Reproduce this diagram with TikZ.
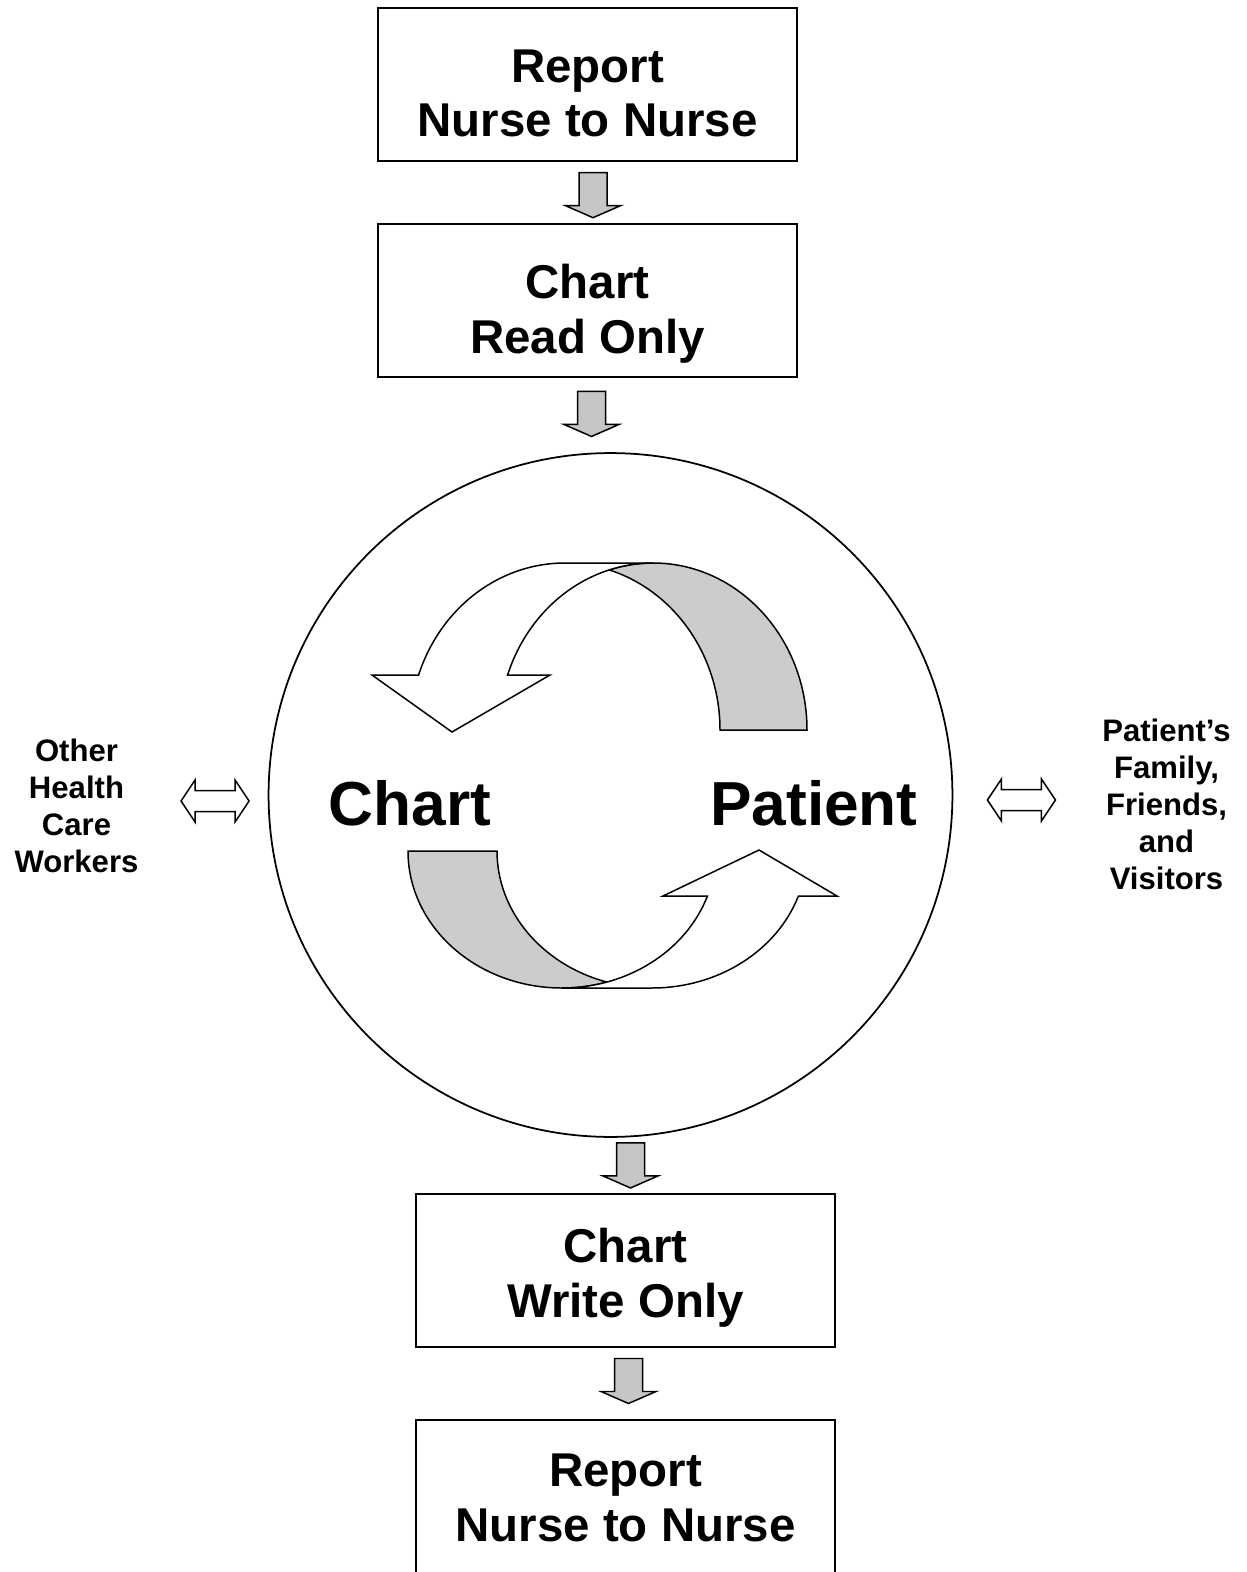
\documentclass[tikz,border=0pt]{standalone}
\usepackage{fontspec}
\setmainfont{Liberation Sans}
\usetikzlibrary{positioning, calc}

% pushes a two-line box text down by half of #1
\newcommand{\textdrop}[1]{\rule{0pt}{\dimexpr\fontcharht\font`R+#1\relax}}

\begin{document}
\begin{tikzpicture}[
    x=0.02cm, y=0.02cm,
    flowbox/.style={rectangle, draw, line width=1.1pt, minimum width=8.38cm, minimum height=3.06cm, outer sep=0pt, align=center, font=\fontsize{27}{31.2}\selectfont\bfseries},
    ring/.style={circle, draw, line width=1pt, minimum size=13.68cm, inner sep=0pt, outer sep=0pt},
    biglabel/.style={inner sep=0pt, font=\fontsize{35.4}{40}\selectfont\bfseries},
    sidelabel/.style={inner sep=0pt, align=center, font=\fontsize{17.7}{21}\selectfont\bfseries},
    ribbon/.style={draw, line width=0.85pt, line join=miter},
    blockarrow/.style={draw, fill=gray!45, line width=0.85pt},
    downarrow/.pic={\path[blockarrow] (-14,0) -- (14,0) -- (14,-33) -- (27.5,-33) -- (0,-45) -- (-27.5,-33) -- (-14,-33) -- cycle;},
    dblarrow/.pic={\path[draw, fill=white, line width=0.85pt] (-34,0) -- (-20,21) -- (-20,10.5) -- (20,10.5) -- (20,21) -- (34,0) -- (20,-21) -- (20,-10.5) -- (-20,-10.5) -- (-20,-21) -- cycle;}
]
\useasboundingbox (0,0) rectangle (1247,-1572);

\node[flowbox] (rep1) at (587.5,-84.5) {\textdrop{10.2pt}Report\\Nurse to Nurse};
\node[flowbox, below=1.26cm of rep1] (readchart) {\textdrop{16.4pt}Chart\\Read Only};
\node[ring] (loop) at (610.5,-795) {};
\node[flowbox] (writechart) at (625.5,-1270.5) {\textdrop{9.1pt}Chart\\Write Only};
\node[flowbox, below=1.46cm of writechart] (rep2) {\textdrop{1.7pt}Report\\Nurse to Nurse};

\node[biglabel] (chartlbl) at (410,-803) {Chart};
\node[biglabel] (patientlbl) at (814,-803) {Patient};
\node[sidelabel] (others) at (76.5,-806) {Other\\Health\\Care\\Workers};
\node[sidelabel] (visitors) at (1166.5,-804.5) {Patient’s\\Family,\\Friends,\\and\\Visitors};

\pic at ($(rep1.south)+(5.5,-11.7)$) {downarrow};
\pic at ($(readchart.south)+(4,-14.5)$) {downarrow};
\pic at ($(loop.south)+(20,-6)$) {downarrow};
\pic at ($(writechart.south)+(3,-11.5)$) {downarrow};
\pic at ($(loop.west)+(-53.5,-6)$) {dblarrow};
\pic at ($(loop.east)+(69,-5)$) {dblarrow};

% upper ribbon, back then front
\path[ribbon, fill=gray!40] (653,-563) arc[start angle=90, end angle=0, x radius=154, y radius=167] -- (720,-730)
    arc[start angle=0, end angle=73.45, x radius=155, y radius=167] arc[start angle=106.55, end angle=90, x radius=154, y radius=167] -- cycle;
\path[ribbon, fill=white] (372,-675) -- (418.6,-675) arc[start angle=160.77, end angle=90, x radius=155, y radius=167] -- (653,-563)
    arc[start angle=90, end angle=160.77, x radius=154, y radius=167] -- (550,-675) -- (452,-732) -- cycle;

% lower ribbon
\path[ribbon, fill=gray!40] (562,-988) arc[start angle=270, end angle=180, x radius=154, y radius=137] -- (497,-851)
    arc[start angle=180, end angle=253.07, x radius=155, y radius=137] arc[start angle=286.93, end angle=270, x radius=154, y radius=137] -- cycle;
\path[ribbon, fill=white] (837,-896) -- (798.4,-896) arc[start angle=-19.18, end angle=-90, x radius=155, y radius=137] -- (562,-988)
    arc[start angle=-90, end angle=-19.18, x radius=154, y radius=137] -- (663,-896) -- (759,-850) -- cycle;

\end{tikzpicture}
\end{document}
